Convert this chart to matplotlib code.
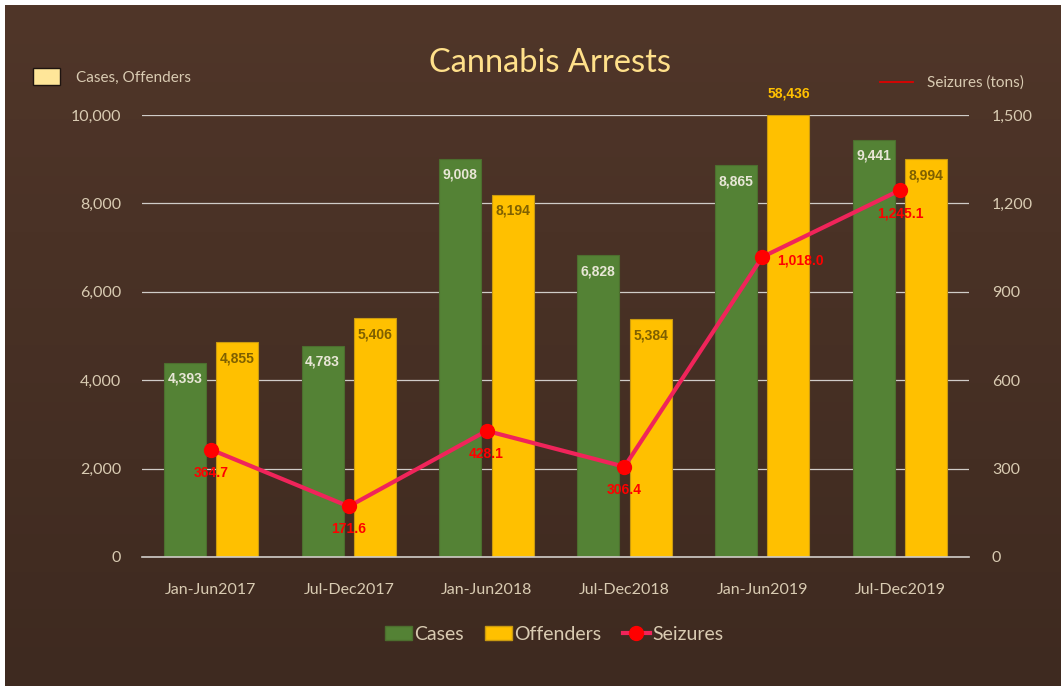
import numpy as np
import matplotlib
matplotlib.use("Agg")
import matplotlib.pyplot as plt
from matplotlib.lines import Line2D
from matplotlib.patches import Patch, Rectangle

periods = ["Jan-Jun2017", "Jul-Dec2017", "Jan-Jun2018", "Jul-Dec2018", "Jan-Jun2019", "Jul-Dec2019"]
cases = [4393, 4783, 9008, 6828, 8865, 9441]
offenders = [4855, 5406, 8194, 5384, 58436, 8994]
seizures = [364.7, 171.6, 428.1, 306.4, 1018.0, 1245.1]
left_ticks = [0, 2000, 4000, 6000, 8000, 10000]
right_ticks = [0, 300, 600, 900, 1200, 1500]

GREEN = "#548235"
GOLD = "#FFC000"
LINE = "#F0245A"
DOT = "#FF0000"
TXT = "#D9CBB2"
TITLE = "#FFE08A"
GRID = "#D0CCC8"
FONT = ["Lato", "DejaVu Sans"]
LBLFONT = ["Liberation Sans", "DejaVu Sans"]

W, H = 1063, 686
fig = plt.figure(figsize=(W / 100, H / 100), dpi=100, facecolor="white")

# brown gradient panel
bg = fig.add_axes([5 / W, 0, 1 - 7 / W, 1 - 5 / H])
bg.set_axis_off()
grad = np.linspace(0, 1, 256).reshape(-1, 1)
top = np.array([0x50, 0x36, 0x29]) / 255
bot = np.array([0x3E, 0x2A, 0x20]) / 255
img = top[None, None, :] * (1 - grad[:, :, None]) + bot[None, None, :] * grad[:, :, None]
bg.imshow(img, aspect="auto", extent=[0, 1, 0, 1])
bg.set_xlim(0, 1)
bg.set_ylim(0, 1)

ax = fig.add_axes([142 / W, 1 - 557 / H, (969 - 142) / W, (557 - 115) / H])
ax.patch.set_alpha(0)
x = np.arange(len(periods))
bw = 0.305
off = 0.19

ax.set_ylim(0, 10000)
ax.set_xlim(-0.5, len(periods) - 0.5)
ax.set_yticks(left_ticks)
ax.yaxis.grid(True, color=GRID, lw=0.9)
ax.set_axisbelow(True)
for s in ["left", "right", "top"]:
    ax.spines[s].set_visible(False)
ax.spines["bottom"].set_color(GRID)
ax.spines["bottom"].set_linewidth(1.2)

ax.bar(x - off, cases, bw, color=GREEN, edgecolor="#4C6E2E", lw=0.8, zorder=2)
ax.bar(x + off, [min(v, 10000) for v in offenders], bw, color=GOLD,
       edgecolor="#C99A10", lw=0.8, zorder=2)

ax.set_xticks(x)
ax.set_xticklabels(periods, fontsize=11.5, color=TXT, family=FONT)
ax.set_yticklabels([f"{v:,}" for v in left_ticks], fontsize=11.5, color=TXT, family=FONT)
ax.tick_params(axis="both", length=0)
ax.tick_params(axis="x", pad=18.5)
ax.tick_params(axis="y", pad=15)

for xi, v in zip(x, cases):
    ax.annotate(f"{v:,}", (xi - off, v), xytext=(0, -16), textcoords="offset pixels",
                ha="center", va="center", fontsize=10, fontweight="bold",
                color="#E8E6D6", family=LBLFONT, zorder=5)
for xi, v in zip(x, offenders):
    if v > 10000:
        ax.annotate(f"{v:,}", (xi + off, 10000), xytext=(0, 21), textcoords="offset pixels",
                    ha="center", va="center", fontsize=10, fontweight="bold",
                    color=GOLD, family=LBLFONT, annotation_clip=False, zorder=5)
    else:
        ax.annotate(f"{v:,}", (xi + off, v), xytext=(0, -16), textcoords="offset pixels",
                    ha="center", va="center", fontsize=10, fontweight="bold",
                    color="#7F6000", family=LBLFONT, zorder=5)

ax2 = ax.twinx()
ax2.patch.set_alpha(0)
ax2.set_ylim(0, 1500)
ax2.set_yticks(right_ticks)
ax2.set_yticklabels([f"{v:,}" for v in right_ticks], fontsize=11.5, color=TXT, family=FONT)
ax2.tick_params(axis="y", length=0, pad=16.5)
for s in ax2.spines.values():
    s.set_visible(False)
ax2.plot(x, seizures, color=LINE, lw=3, zorder=3)
ax2.plot(x, seizures, ls="none", marker="o", ms=10, color=DOT, zorder=4)

for i, (xi, v) in enumerate(zip(x, seizures)):
    lbl = f"{v:,.1f}"
    if i == 4:
        ax2.annotate(lbl, (xi, v), xytext=(15, -3), textcoords="offset pixels",
                     ha="left", va="center", fontsize=10, fontweight="bold",
                     color=DOT, family=LBLFONT, zorder=6)
    else:
        ax2.annotate(lbl, (xi, v), xytext=(0, -23), textcoords="offset pixels",
                     ha="center", va="center", fontsize=10, fontweight="bold",
                     color=DOT, family=LBLFONT, zorder=6)

fig.text(550 / W, 1 - 63 / H, "Cannabis Arrests", ha="center", va="center",
         fontsize=23.5, color=TITLE, family=FONT)

# axis keys at the top corners
fig.patches.append(Rectangle((33 / W, 1 - 85 / H), 27 / W, 17 / H, transform=fig.transFigure,
                             facecolor="#FFE699", edgecolor="#1E1410", lw=1))
fig.text(76 / W, 1 - 78 / H, "Cases, Offenders", ha="left", va="center",
         fontsize=11, color=TXT, family=FONT)
fig.lines.append(Line2D([880 / W, 913 / W], [1 - 82 / H, 1 - 82 / H], transform=fig.transFigure,
                        color="#E00000", lw=1.3))
fig.text(927 / W, 1 - 83 / H, "Seizures (tons)", ha="left", va="center",
         fontsize=11, color=TXT, family=FONT)

handles = [Patch(facecolor=GREEN, edgecolor="#4C6E2E", label="Cases"),
           Patch(facecolor=GOLD, edgecolor="#C99A10", label="Offenders"),
           Line2D([0], [0], color=LINE, lw=3, marker="o", ms=10, mfc=DOT, mec=DOT, label="Seizures")]
leg = fig.legend(handles=handles, loc="center", bbox_to_anchor=(554 / W, 1 - 634 / H), ncol=3,
                 frameon=False, handlelength=1.4, handletextpad=0.1,
                 columnspacing=1.1, prop={"family": FONT, "size": 14})
for t in leg.get_texts():
    t.set_color(TXT)

fig.savefig("out.png", dpi=100, facecolor="white")
